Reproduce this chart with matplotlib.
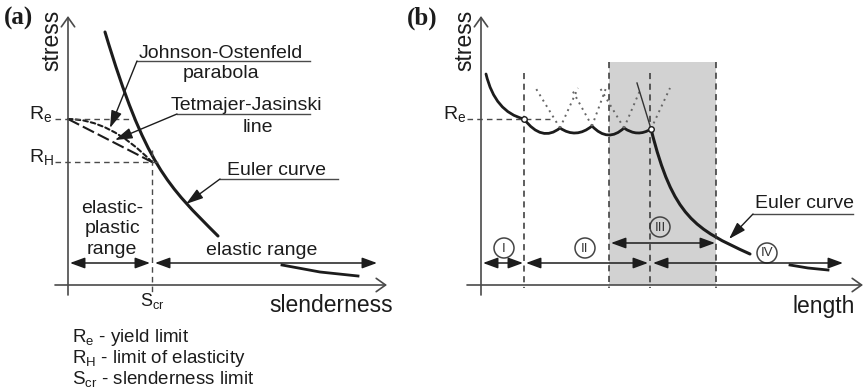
import numpy as np
import matplotlib.pyplot as plt
from matplotlib.path import Path
from matplotlib.patches import PathPatch, Circle, Rectangle

plt.rcParams['font.family'] = ['Liberation Sans', 'DejaVu Sans']
plt.rcParams['mathtext.fontset'] = 'custom'
plt.rcParams['mathtext.rm'] = 'Liberation Sans'

INK = '#1c1c1c'
AXC = '#4a4a4a'
GRAY = '#d2d2d2'

# ---- panel (a) values (pixel units) ----
# Euler curve as a cubic Bezier: start, two control points, end
euler_a_pts = [(105, 32), (145, 165), (168, 186), (218, 236)]
euler_a_tail_x = [282, 320, 358]
euler_a_tail_y = [265, 272, 276]
re_a = 119          # yield limit level
rh_a = 162          # limit of elasticity level
scr_a = 152         # slenderness limit
origin_a = (68, 285)
parab_ctrl = (110, 119)

# ---- panel (b) values ----
start_b_pts = [(486, 74), (495, 112), (524, 119)]
cusp_x = [524, 560, 592, 624, 651]
cusp_y = [119, 128, 126, 128, 129]
arc_min_y = [133, 133, 135, 133]
# dotted continuations: (from cusp x, from cusp y, top x, top y)
dot_from_x = [560, 560, 592, 592, 624, 624, 651]
dot_from_y = [128, 128, 126, 126, 128, 128, 129]
dot_top_x = [535, 578, 571, 606, 600, 641, 670]
dot_top_y = [87, 88, 88, 88, 88, 88, 88]
euler_b_thin_x = [637, 651]
euler_b_thin_y = [83, 129]
euler_b_pts = [(651, 129), (673, 217), (695, 229), (750, 254)]
euler_b_tail_x = [790, 808, 828]
euler_b_tail_y = [265, 268, 270]
vlines_b = [524, 609, 650, 716]
vtops_b = [73, 62, 73, 62]
shade_b = (609, 716)
origin_b = (481, 285)
re_b = 119
ranges_b = [(483, 523), (526, 648), (653, 843)]
range3_b = (611, 715)
numerals = ['I', 'II', 'III', 'IV']
num_x = [504, 585, 660, 767]
num_y = [248, 248, 227, 253]

fig = plt.figure(figsize=(8.64, 3.92), dpi=100)
ax = fig.add_axes([0, 0, 1, 1])
ax.set_xlim(0, 864)
ax.set_ylim(392, 0)
ax.axis('off')


def arrow(x0, y0, x1, y1, style, lw=1.1, color=INK, ms=15):
    ax.annotate('', xy=(x1, y1), xytext=(x0, y0),
                arrowprops=dict(arrowstyle=style, lw=lw, color=color,
                                shrinkA=0, shrinkB=0, mutation_scale=ms))


def bezier(pts, lw, ls='-', ec=INK):
    codes = [Path.MOVETO] + [Path.CURVE4 if len(pts) == 4 else Path.CURVE3] * (len(pts) - 1)
    ax.add_patch(PathPatch(Path(pts, codes), fill=False, lw=lw, ls=ls, ec=ec,
                           capstyle='round'))


DBL = '<|-|>,head_length=0.6,head_width=0.22'
ONE = '-|>,head_length=0.7,head_width=0.22'
AXA = '->,head_length=0.45,head_width=0.32'

# ================= panel (a) =================
ox, oy = origin_a
arrow(ox, 295, ox, 16, AXA, lw=1.2, color=AXC)
arrow(55, oy, 387, oy, AXA, lw=1.2, color=AXC)
ax.text(4, 25, '(a)', fontsize=18, fontweight='bold', family='Liberation Serif', color=INK)
ax.text(58, 40, 'stress', fontsize=16.5, rotation=90, rotation_mode='anchor',
        ha='center', va='baseline', color=INK)
ax.text(393, 312, 'slenderness', fontsize=16.5, ha='right', va='baseline', color=INK)

# reference levels
ax.plot([55, 133], [re_a, re_a], ls=(0, (4, 3)), lw=1.0, color=AXC)
ax.plot([55, 160], [rh_a, rh_a], ls=(0, (4, 3)), lw=1.0, color=AXC)
ax.plot([scr_a, scr_a], [150, 295], ls=(0, (4, 3)), lw=1.0, color=AXC)
ax.text(29, re_a + 1, r'R$_\mathrm{e}$', fontsize=14, va='baseline', color=INK)
ax.text(29, rh_a + 1, r'R$_\mathrm{H}$', fontsize=14, va='baseline', color=INK)
ax.text(scr_a, 306, r'S$_\mathrm{cr}$', fontsize=13, ha='center', va='baseline', color=INK)

# Tetmajer line and Johnson-Ostenfeld parabola
ax.plot([ox, scr_a], [re_a, rh_a], ls=(0, (6, 2)), lw=1.5, color=INK)
bezier([(ox, re_a), parab_ctrl, (scr_a, rh_a)], lw=1.5, ls=(0, (2.2, 1.5)))

# Euler curve
bezier(euler_a_pts, lw=2.2)
ax.plot(euler_a_tail_x, euler_a_tail_y, lw=2.0, color=INK)

# annotations
ax.plot([137, 310], [61, 61], lw=1.0, color=AXC)
arrow(137, 61, 110, 128, ONE, lw=1.0)
ax.text(221, 58, 'Johnson-Ostenfeld', fontsize=14, ha='center', va='baseline', color=INK)
ax.text(221, 78, 'parabola', fontsize=14, ha='center', va='baseline', color=INK)

ax.plot([177, 310], [114, 114], lw=1.0, color=AXC)
arrow(177, 114, 115, 140, ONE, lw=1.0)
ax.text(246, 110, 'Tetmajer-Jasinski', fontsize=14, ha='center', va='baseline', color=INK)
ax.text(258, 132, 'line', fontsize=14, ha='center', va='baseline', color=INK)

ax.plot([220, 338], [179, 179], lw=1.0, color=AXC)
arrow(220, 179, 186, 204, ONE, lw=1.0)
ax.text(227, 175, 'Euler curve', fontsize=14, ha='left', va='baseline', color=INK)

# ranges
for i, t in enumerate(['elastic-', 'plastic', 'range']):
    ax.text(112, [213, 233, 254][i], t, fontsize=14, ha='center', va='baseline', color=INK)
arrow(70, 263, 150, 263, DBL)
arrow(155, 263, 377, 263, DBL)
ax.text(262, 255, 'elastic range', fontsize=14, ha='center', va='baseline', color=INK)

# key
ax.text(72, 342, r'R$_\mathrm{e}$ - yield limit', fontsize=13.5, va='baseline', color=INK)
ax.text(72, 363, r'R$_\mathrm{H}$ - limit of elasticity', fontsize=13.5, va='baseline', color=INK)
ax.text(72, 385, r'S$_\mathrm{cr}$ - slenderness limit', fontsize=13.5, va='baseline', color=INK)

# ================= panel (b) =================
bx, by = origin_b
ax.add_patch(Rectangle((shade_b[0], 62), shade_b[1] - shade_b[0], by - 62,
                       fc=GRAY, ec='none', zorder=0))
arrow(bx, 295, bx, 16, AXA, lw=1.2, color=AXC)
arrow(467, by, 863, by, AXA, lw=1.2, color=AXC)
ax.text(407, 25, '(b)', fontsize=18, fontweight='bold', family='Liberation Serif', color=INK)
ax.text(471, 40, 'stress', fontsize=16.5, rotation=90, rotation_mode='anchor',
        ha='center', va='baseline', color=INK)
ax.text(855, 313, 'length', fontsize=16.5, ha='right', va='baseline', color=INK)

for xv, yt in zip(vlines_b, vtops_b):
    ax.plot([xv, xv], [yt, 288], ls=(0, (4, 3)), lw=1.1, color='#333333')
ax.plot([467, 550], [re_b, re_b], ls=(0, (4, 3)), lw=1.0, color=AXC)
ax.text(443, re_b + 1, r'R$_\mathrm{e}$', fontsize=14, va='baseline', color=INK)

# dotted continuations of the local-buckling parabolas
for x0, y0, x1, y1 in zip(dot_from_x, dot_from_y, dot_top_x, dot_top_y):
    ax.plot([x0, x1], [y0, y1], ls=(0, (1, 2.2)), lw=1.4, color='#666666')

# start curve and scallops
bezier(start_b_pts, lw=2.0)
verts = [(cusp_x[0], cusp_y[0])]
codes = [Path.MOVETO]
for k in range(len(arc_min_y)):
    xm = (cusp_x[k] + cusp_x[k + 1]) / 2
    yc = 2 * arc_min_y[k] - (cusp_y[k] + cusp_y[k + 1]) / 2
    verts += [(xm, yc), (cusp_x[k + 1], cusp_y[k + 1])]
    codes += [Path.CURVE3, Path.CURVE3]
ax.add_patch(PathPatch(Path(verts, codes), fill=False, lw=2.0, ec=INK))

# Euler curve
ax.plot(euler_b_thin_x, euler_b_thin_y, lw=1.0, color='#333333')
bezier(euler_b_pts, lw=2.2)
ax.plot(euler_b_tail_x, euler_b_tail_y, lw=2.0, color=INK)
ax.plot([cusp_x[0], cusp_x[-1]], [cusp_y[0], cusp_y[-1]], ls='none', marker='o',
        ms=4, mfc='white', mec=INK, mew=1.0, zorder=5)

ax.plot([753, 853], [214, 214], lw=1.0, color=AXC)
arrow(753, 214, 729, 239, ONE, lw=1.0)
ax.text(755, 208, 'Euler curve', fontsize=14, ha='left', va='baseline', color=INK)

for a, b in ranges_b:
    arrow(a, 263, b, 263, DBL)
arrow(range3_b[0], 243, range3_b[1], 243, DBL)

for t, xn, yn in zip(numerals, num_x, num_y):
    ax.add_patch(Circle((xn, yn), 10, fc='none', ec='#444444', lw=1.1))
    ax.text(xn, yn + 0.5, t, fontsize=9.5, ha='center', va='center', color='#333333')

fig.savefig('out.png', dpi=100)
